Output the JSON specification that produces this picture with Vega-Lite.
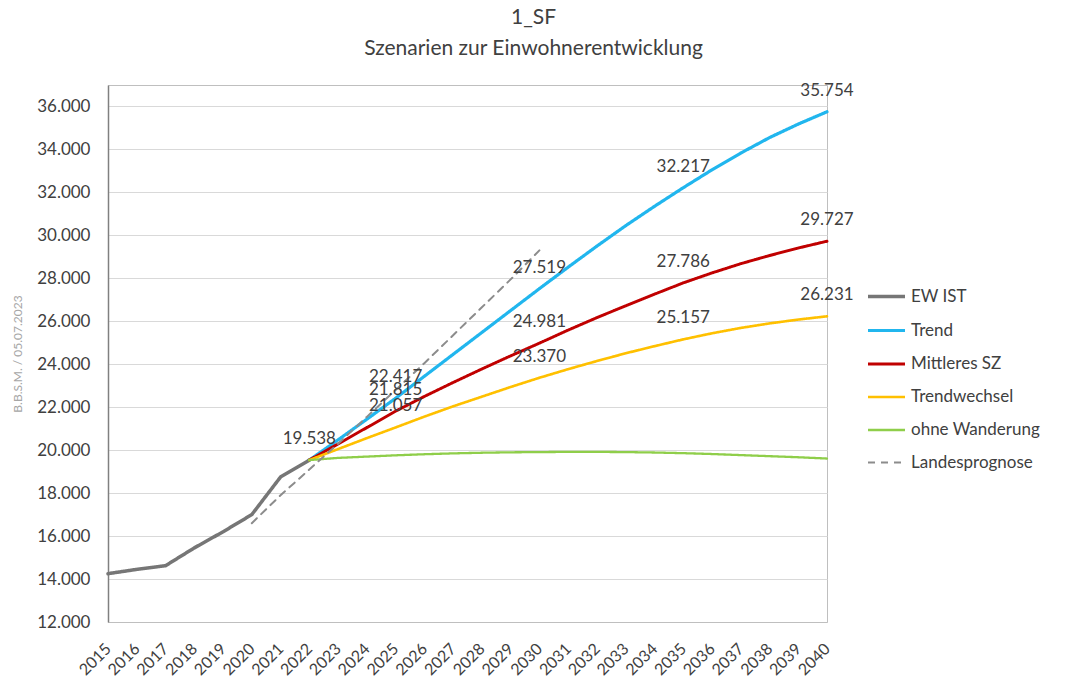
{
  "$schema": "https://vega.github.io/schema/vega-lite/v6.json",
  "width": 719,
  "height": 537,
  "autosize": {"type": "none"},
  "padding": {"left": 108, "top": 85, "right": 240, "bottom": 62},
  "title": {
    "text": "1_SF",
    "subtitle": "Szenarien zur Einwohnerentwicklung",
    "anchor": "middle",
    "dx": 66,
    "offset": 23,
    "fontSize": 21,
    "fontWeight": "normal",
    "subtitleFontSize": 21,
    "subtitlePadding": 10,
    "color": "#404040",
    "subtitleColor": "#404040",
    "font": "Lato",
    "subtitleFont": "Lato"
  },
  "config": {
    "locale": {"number": {"decimal": ",", "thousands": ".", "grouping": [3], "currency": ["", " €"]}},
    "view": {"stroke": "#bfbfbf", "strokeWidth": 1},
    "font": "Lato",
    "axis": {"labelFont": "Lato", "titleFont": "Lato", "labelColor": "#404040"}
  },
  "data": {
    "values": [
      {"year": 2015, "series": "EW IST", "value": 14250},
      {"year": 2016, "series": "EW IST", "value": 14450},
      {"year": 2017, "series": "EW IST", "value": 14620},
      {"year": 2018, "series": "EW IST", "value": 15450},
      {"year": 2019, "series": "EW IST", "value": 16200},
      {"year": 2020, "series": "EW IST", "value": 17000},
      {"year": 2021, "series": "EW IST", "value": 18750},
      {"year": 2022, "series": "EW IST", "value": 19538},

      {"year": 2022, "series": "Trend", "value": 19538},
      {"year": 2023, "series": "Trend", "value": 20480},
      {"year": 2024, "series": "Trend", "value": 21440},
      {"year": 2025, "series": "Trend", "value": 22417},
      {"year": 2026, "series": "Trend", "value": 23440},
      {"year": 2027, "series": "Trend", "value": 24460},
      {"year": 2028, "series": "Trend", "value": 25480},
      {"year": 2029, "series": "Trend", "value": 26500},
      {"year": 2030, "series": "Trend", "value": 27519},
      {"year": 2031, "series": "Trend", "value": 28520},
      {"year": 2032, "series": "Trend", "value": 29500},
      {"year": 2033, "series": "Trend", "value": 30450},
      {"year": 2034, "series": "Trend", "value": 31350},
      {"year": 2035, "series": "Trend", "value": 32217},
      {"year": 2036, "series": "Trend", "value": 33050},
      {"year": 2037, "series": "Trend", "value": 33830},
      {"year": 2038, "series": "Trend", "value": 34550},
      {"year": 2039, "series": "Trend", "value": 35180},
      {"year": 2040, "series": "Trend", "value": 35754},

      {"year": 2022, "series": "Mittleres SZ", "value": 19538},
      {"year": 2023, "series": "Mittleres SZ", "value": 20290},
      {"year": 2024, "series": "Mittleres SZ", "value": 21050},
      {"year": 2025, "series": "Mittleres SZ", "value": 21815},
      {"year": 2026, "series": "Mittleres SZ", "value": 22500},
      {"year": 2027, "series": "Mittleres SZ", "value": 23150},
      {"year": 2028, "series": "Mittleres SZ", "value": 23780},
      {"year": 2029, "series": "Mittleres SZ", "value": 24390},
      {"year": 2030, "series": "Mittleres SZ", "value": 24981},
      {"year": 2031, "series": "Mittleres SZ", "value": 25590},
      {"year": 2032, "series": "Mittleres SZ", "value": 26170},
      {"year": 2033, "series": "Mittleres SZ", "value": 26720},
      {"year": 2034, "series": "Mittleres SZ", "value": 27260},
      {"year": 2035, "series": "Mittleres SZ", "value": 27786},
      {"year": 2036, "series": "Mittleres SZ", "value": 28250},
      {"year": 2037, "series": "Mittleres SZ", "value": 28680},
      {"year": 2038, "series": "Mittleres SZ", "value": 29060},
      {"year": 2039, "series": "Mittleres SZ", "value": 29410},
      {"year": 2040, "series": "Mittleres SZ", "value": 29727},

      {"year": 2022, "series": "Trendwechsel", "value": 19538},
      {"year": 2023, "series": "Trendwechsel", "value": 20050},
      {"year": 2024, "series": "Trendwechsel", "value": 20560},
      {"year": 2025, "series": "Trendwechsel", "value": 21057},
      {"year": 2026, "series": "Trendwechsel", "value": 21560},
      {"year": 2027, "series": "Trendwechsel", "value": 22040},
      {"year": 2028, "series": "Trendwechsel", "value": 22490},
      {"year": 2029, "series": "Trendwechsel", "value": 22940},
      {"year": 2030, "series": "Trendwechsel", "value": 23370},
      {"year": 2031, "series": "Trendwechsel", "value": 23770},
      {"year": 2032, "series": "Trendwechsel", "value": 24150},
      {"year": 2033, "series": "Trendwechsel", "value": 24510},
      {"year": 2034, "series": "Trendwechsel", "value": 24840},
      {"year": 2035, "series": "Trendwechsel", "value": 25157},
      {"year": 2036, "series": "Trendwechsel", "value": 25440},
      {"year": 2037, "series": "Trendwechsel", "value": 25690},
      {"year": 2038, "series": "Trendwechsel", "value": 25900},
      {"year": 2039, "series": "Trendwechsel", "value": 26080},
      {"year": 2040, "series": "Trendwechsel", "value": 26231},

      {"year": 2022, "series": "ohne Wanderung", "value": 19538},
      {"year": 2023, "series": "ohne Wanderung", "value": 19640},
      {"year": 2024, "series": "ohne Wanderung", "value": 19700},
      {"year": 2025, "series": "ohne Wanderung", "value": 19760},
      {"year": 2026, "series": "ohne Wanderung", "value": 19810},
      {"year": 2027, "series": "ohne Wanderung", "value": 19850},
      {"year": 2028, "series": "ohne Wanderung", "value": 19880},
      {"year": 2029, "series": "ohne Wanderung", "value": 19900},
      {"year": 2030, "series": "ohne Wanderung", "value": 19910},
      {"year": 2031, "series": "ohne Wanderung", "value": 19920},
      {"year": 2032, "series": "ohne Wanderung", "value": 19920},
      {"year": 2033, "series": "ohne Wanderung", "value": 19910},
      {"year": 2034, "series": "ohne Wanderung", "value": 19890},
      {"year": 2035, "series": "ohne Wanderung", "value": 19860},
      {"year": 2036, "series": "ohne Wanderung", "value": 19820},
      {"year": 2037, "series": "ohne Wanderung", "value": 19770},
      {"year": 2038, "series": "ohne Wanderung", "value": 19720},
      {"year": 2039, "series": "ohne Wanderung", "value": 19670},
      {"year": 2040, "series": "ohne Wanderung", "value": 19610},

      {"year": 2020, "series": "Landesprognose", "value": 16600},
      {"year": 2021, "series": "Landesprognose", "value": 17900},
      {"year": 2022, "series": "Landesprognose", "value": 19100},
      {"year": 2023, "series": "Landesprognose", "value": 20300},
      {"year": 2024, "series": "Landesprognose", "value": 21550},
      {"year": 2025, "series": "Landesprognose", "value": 22800},
      {"year": 2026, "series": "Landesprognose", "value": 24050},
      {"year": 2027, "series": "Landesprognose", "value": 25350},
      {"year": 2028, "series": "Landesprognose", "value": 26650},
      {"year": 2029, "series": "Landesprognose", "value": 27950},
      {"year": 2030, "series": "Landesprognose", "value": 29300}
    ]
  },
  "encoding": {
    "x": {
      "field": "year", "type": "quantitative",
      "scale": {"domain": [2015, 2040], "nice": false, "zero": false},
      "axis": {
        "title": null,
        "values": [2015,2016,2017,2018,2019,2020,2021,2022,2023,2024,2025,2026,2027,2028,2029,2030,2031,2032,2033,2034,2035,2036,2037,2038,2039,2040],
        "format": "d",
        "labelAngle": -45,
        "labelAlign": "right",
        "labelBaseline": "middle",
        "labelFontSize": 16,
        "labelPadding": 24,
        "ticks": false,
        "grid": false,
        "domain": true,
        "domainColor": "#bfbfbf",
        "labelOverlap": false,
        "labelFlush": false
      }
    },
    "y": {
      "field": "value", "type": "quantitative",
      "scale": {"domain": [12000, 37000], "nice": false, "zero": false},
      "axis": {
        "title": "B.B.S.M. / 05.07.2023",
        "titleColor": "#a6a6a6",
        "titleFontSize": 12,
        "titleFontWeight": "normal",
        "titlePadding": 12,
        "values": [12000,14000,16000,18000,20000,22000,24000,26000,28000,30000,32000,34000,36000],
        "format": ",d",
        "labelFontSize": 17,
        "labelPadding": 18,
        "ticks": false,
        "gridColor": "#d9d9d9",
        "domainColor": "#808080",
        "domainWidth": 1.5
      }
    }
  },
  "layer": [
    {
      "mark": {"type": "line", "strokeCap": "round", "strokeJoin": "round"},
      "encoding": {
        "detail": {"field": "series"},
        "color": {
          "field": "series", "type": "nominal",
          "scale": {
            "domain": ["EW IST", "Trend", "Mittleres SZ", "Trendwechsel", "ohne Wanderung", "Landesprognose"],
            "range": ["#767676", "#21b6ee", "#c00000", "#ffc000", "#8fce4a", "#8c8c8c"]
          },
          "legend": {
            "title": null,
            "orient": "none",
            "legendX": 758,
            "legendY": 191,
            "symbolType": "stroke",
            "symbolSize": 1369,
            "labelFontSize": 17,
            "labelColor": "#404040",
            "labelFont": "Lato",
            "rowPadding": 5,
            "labelOffset": 4
          }
        },
        "strokeDash": {
          "field": "series", "type": "nominal",
          "scale": {
            "domain": ["EW IST", "Trend", "Mittleres SZ", "Trendwechsel", "ohne Wanderung", "Landesprognose"],
            "range": [[1,0],[1,0],[1,0],[1,0],[1,0],[7,6]]
          },
          "legend": null
        },
        "strokeWidth": {
          "field": "series", "type": "nominal",
          "scale": {
            "domain": ["EW IST", "Trend", "Mittleres SZ", "Trendwechsel", "ohne Wanderung", "Landesprognose"],
            "range": [3.5, 2, 2, 2, 2, 1.8]
          },
          "legend": null
        },
        "order": {"field": "year"}
      }
    },
    {
      "transform": [
        {"filter": "(datum.series === 'EW IST' && datum.year === 2022) || ((datum.series === 'Trend' || datum.series === 'Mittleres SZ' || datum.series === 'Trendwechsel') && (datum.year === 2025 || datum.year === 2030 || datum.year === 2035 || datum.year === 2040))"}
      ],
      "mark": {"type": "text", "dy": -21, "fontSize": 17, "color": "#404040", "font": "Lato"},
      "encoding": {
        "text": {"field": "value", "type": "quantitative", "format": ",d"}
      }
    }
  ]
}
